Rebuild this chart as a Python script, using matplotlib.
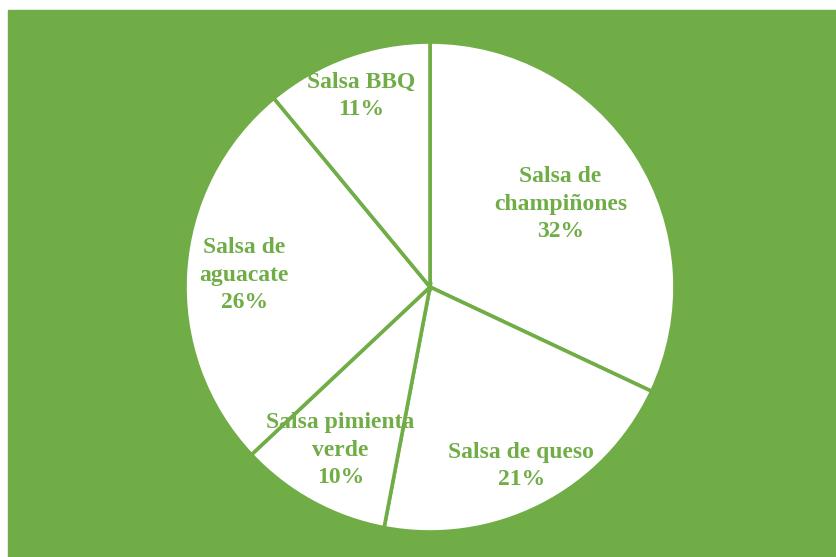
import numpy as np
import matplotlib
matplotlib.use("Agg")
import matplotlib.pyplot as plt
from matplotlib.patches import Rectangle

labels = ["Salsa de\nchampiñones", "Salsa de queso", "Salsa pimienta\nverde",
          "Salsa de\naguacate", "Salsa BBQ"]
values = [32, 21, 10, 26, 11]
label_dist = [0.63, 0.82, 0.76, 0.76, 0.83]

green = "#70AD47"

fig = plt.figure(figsize=(8.37, 5.57), dpi=100)
fig.patch.set_facecolor("white")
# green chart area, slightly inset from the top-left corner
fig.add_artist(Rectangle((8 / 837, 0), 1 - 8 / 837, 1 - 10 / 557,
                         transform=fig.transFigure, color=green, zorder=0))

cx, cy, r = 430, 287, 245
ax = fig.add_axes([(cx - r) / 837, (557 - cy - r) / 557, 2 * r / 837, 2 * r / 557])
ax.set_facecolor("none")

wedges, _ = ax.pie(values, startangle=90, counterclock=False,
                   colors=["white"] * len(values),
                   wedgeprops=dict(edgecolor=green, linewidth=2.6))
ax.set_xlim(-1, 1)
ax.set_ylim(-1, 1)
ax.set_aspect("equal")
ax.axis("off")

for w, lab, v, d in zip(wedges, labels, values, label_dist):
    ang = np.deg2rad((w.theta1 + w.theta2) / 2)
    ax.text(d * np.cos(ang), d * np.sin(ang), f"{lab}\n{v}%",
            ha="center", va="center", color=green, fontsize=17,
            fontweight="bold", family="Liberation Serif", linespacing=1.4)

fig.savefig("out.png", dpi=100)
